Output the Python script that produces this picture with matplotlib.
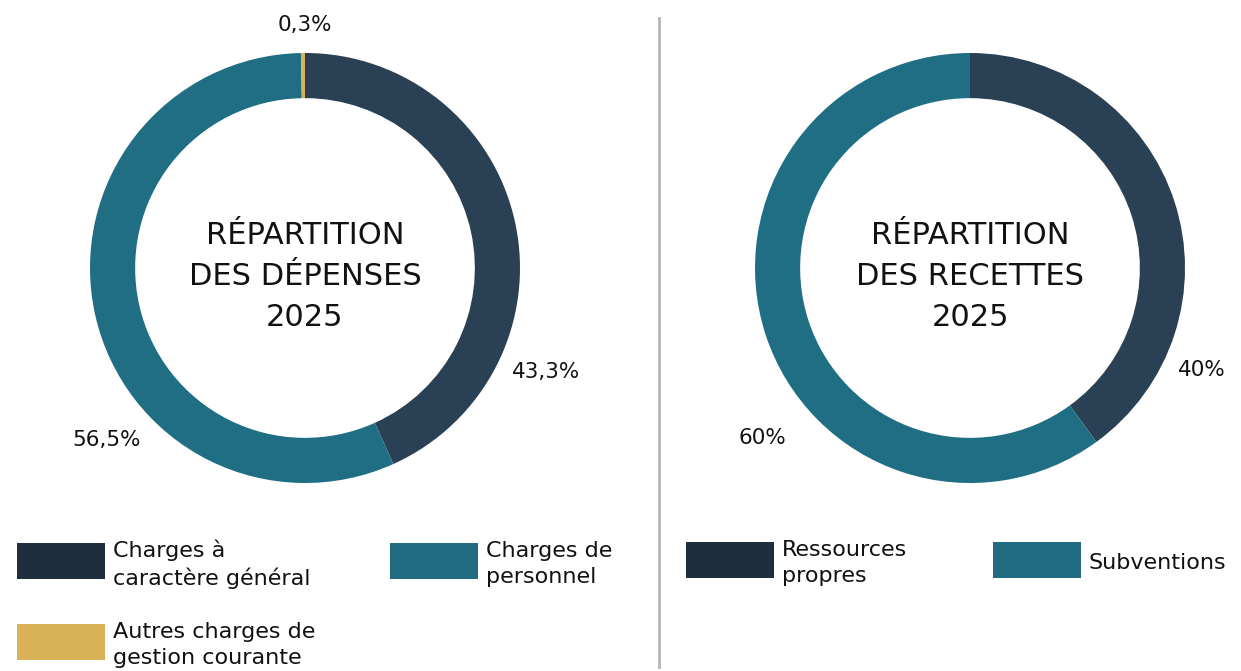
import matplotlib.pyplot as plt
from matplotlib.patches import Rectangle
from matplotlib.lines import Line2D

# data
dep_labels = ["Charges à\ncaractère général", "Charges de\npersonnel", "Autres charges de\ngestion courante"]
dep_values = [43.3, 56.5, 0.3]
rec_labels = ["Ressources\npropres", "Subventions"]
rec_values = [40, 60]

dark = "#2a4054"
teal = "#206e84"
gold = "#d9b257"
dep_colors = [dark, teal, gold]
rec_colors = [dark, teal]
# legend swatches are a touch darker than the ring
dep_leg_colors = ["#1f2e3e", "#206b82", "#d9b257"]
rec_leg_colors = ["#1f2e3e", "#206b82"]

W, H = 1241, 671
plt.rcParams['font.family'] = ['DejaVu Sans']
fig = plt.figure(figsize=(W / 100, H / 100), dpi=100)


def fmt(v):
    return f"{v:g}".replace('.', ',') + "%"


def donut(cx, cy, r, values, colors, title, label_pos):
    ax = fig.add_axes([(cx - r) / W, (H - cy - r) / H, 2 * r / W, 2 * r / H])
    ax.pie(values, colors=colors, startangle=90, counterclock=False,
           radius=1, wedgeprops=dict(width=0.21, linewidth=0))
    ax.set_xlim(-1, 1)
    ax.set_ylim(-1, 1)
    ax.axis('off')
    ax.text(0, -0.04, title, ha='center', va='center', fontsize=22,
            linespacing=1.52, color='#111111')
    for v, (x, y) in zip(values, label_pos):
        ax.text(x, y, fmt(v), ha='center', va='center', fontsize=15.5, color='#111111')
    return ax


donut(305, 268, 215, dep_values, dep_colors, "RÉPARTITION\nDES DÉPENSES\n2025",
      [(1.12, -0.484), (-0.921, -0.80), (0.0, 1.13)])
donut(970, 268, 215, rec_values, rec_colors, "RÉPARTITION\nDES RECETTES\n2025",
      [(1.08, -0.474), (-0.967, -0.79)])

# divider
fig.add_artist(Line2D([659 / W, 659 / W], [1 - 18 / H, 1 - 667 / H],
                      color='#b5b5b5', linewidth=2))


# legends (manual layout)
def legend_item(x, y, color, label):
    fig.add_artist(Rectangle((x / W, 1 - (y + 36) / H), 88 / W, 36 / H,
                             facecolor=color, edgecolor='none'))
    fig.text((x + 96) / W, 1 - (y + 21) / H, label, ha='left', va='center',
             fontsize=16, linespacing=1.38, color='#111111')


dep_slots = [(17, 543), (390, 543), (17, 624)]
for (x, y), c, lab in zip(dep_slots, dep_leg_colors, dep_labels):
    legend_item(x, y, c, lab)

rec_slots = [(686, 542), (993, 542)]
for (x, y), c, lab in zip(rec_slots, rec_leg_colors, rec_labels):
    legend_item(x, y, c, lab)

fig.savefig("out.png", dpi=100)
